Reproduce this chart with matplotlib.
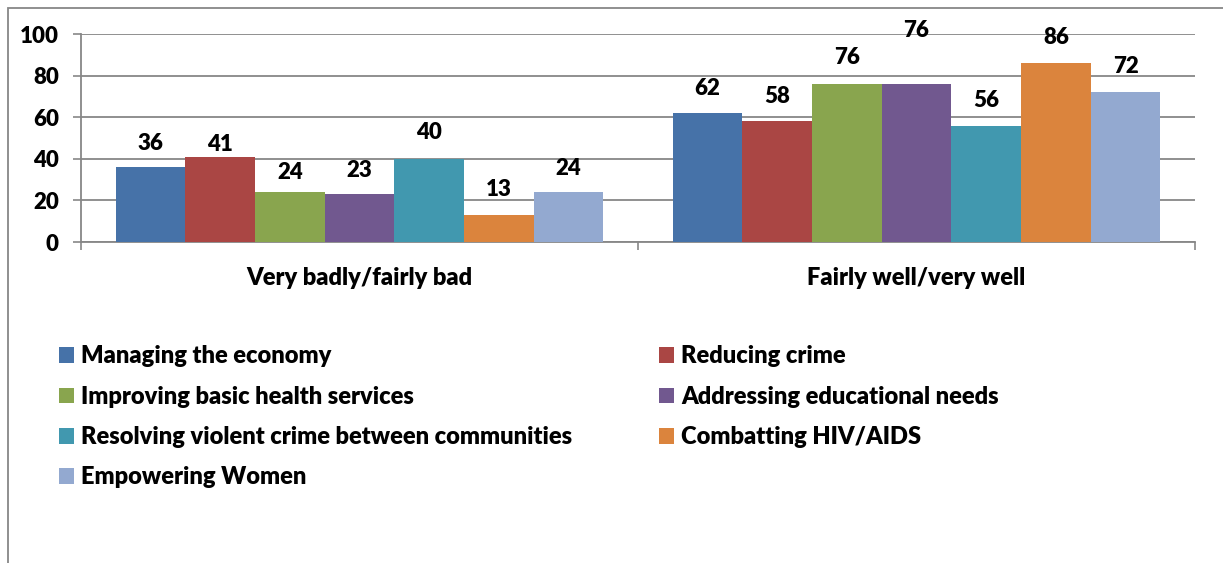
import matplotlib.pyplot as plt
from matplotlib.patches import Rectangle
import numpy as np

plt.rcParams['font.family'] = ['Lato', 'DejaVu Sans']
plt.rcParams['font.weight'] = 'heavy'

# categories and series
categorias = ['Very badly/fairly bad', 'Fairly well/very well']
series = ['Managing the economy', 'Reducing crime', 'Improving basic health services',
          'Addressing educational needs', 'Resolving violent crime between communities',
          'Combatting HIV/AIDS', 'Empowering Women']
economia = [36, 62]
crimen = [41, 58]
salud = [24, 76]
educacion = [23, 76]
violencia = [40, 56]
vih = [13, 86]
mujeres = [24, 72]
valores = [economia, crimen, salud, educacion, violencia, vih, mujeres]

colores = ['#4672A8', '#AA4644', '#89A54E', '#71588F', '#4198AF', '#DB843D', '#93A9D0']

# desplazamiento vertical de las etiquetas (pixeles) por serie y categoria
desp = [[24, 25], [12, 25], [20, 26], [24, 53], [26, 25], [25, 26], [24, 26]]

peso = 'heavy'
tam = 16

fig = plt.figure(figsize=(12.23, 5.63), dpi=100)
ax = fig.add_axes([81 / 1223, 1 - 242 / 563, (1195 - 81) / 1223, 208 / 563])

n = len(series)
ancho = 0.876 / n
x = np.arange(len(categorias))
for i in range(n):
    pos = x - 0.438 + ancho * (i + 0.5)
    ax.bar(pos, valores[i], width=ancho, color=colores[i], label=series[i], zorder=3)
    for j in range(len(categorias)):
        ax.annotate(str(valores[i][j]), (pos[j], valores[i][j]),
                    xytext=(0, desp[i][j] * 0.72), textcoords='offset points',
                    ha='center', va='center', fontsize=tam, fontweight=peso)

ax.set_xlim(-0.5, 1.5)
ax.set_ylim(0, 100)
ax.set_yticks([0, 20, 40, 60, 80, 100])
ax.set_xticks([-0.5, 0.5, 1.5])
ax.set_xticklabels([])
ax.set_xticks(x, minor=True)
ax.set_xticklabels(categorias, minor=True, fontsize=17, fontweight=peso)
ax.tick_params(axis='x', which='minor', length=0, pad=18)
ax.tick_params(axis='x', which='major', length=6, width=1.2, color='#878787', direction='out')
ax.tick_params(axis='y', length=6, width=1.2, color='#878787', labelsize=tam, pad=10)
for t in ax.get_yticklabels():
    t.set_fontweight(peso)

ax.grid(axis='y', color='#878787', linewidth=1.3, zorder=0)
for s in ['top', 'right']:
    ax.spines[s].set_visible(False)
for s in ['left', 'bottom']:
    ax.spines[s].set_color('#878787')
    ax.spines[s].set_linewidth(1.3)

# leyenda en orden por filas
h, l = ax.get_legend_handles_labels()
orden = [0, 2, 4, 6, 1, 3, 5]
fig.legend([h[k] for k in orden], [l[k] for k in orden], ncol=2, frameon=False,
           loc='upper left', bbox_to_anchor=(38 / 1223, 1 - 324 / 563),
           handlelength=0.64, handleheight=0.64, handletextpad=0.3,
           labelspacing=0.78, columnspacing=3.65, prop={'weight': peso, 'size': 17})

# marco exterior
fig.patches.append(Rectangle((8 / 1223, -0.1), 1.2, 1 - 8 / 563 + 0.1, transform=fig.transFigure,
                             fill=False, edgecolor='#878787', linewidth=1.3))

fig.savefig('out.png', dpi=100)
